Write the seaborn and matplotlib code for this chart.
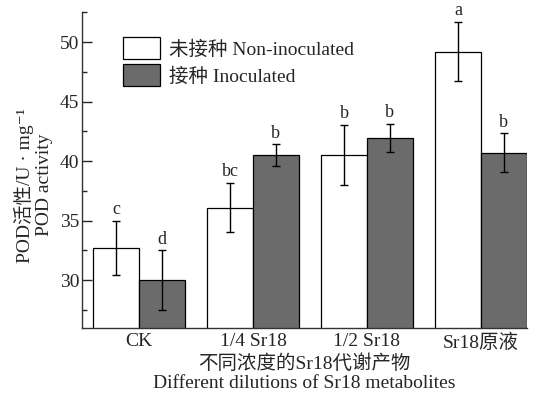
import numpy as np
import pandas as pd
import matplotlib
matplotlib.use("Agg")
import matplotlib.pyplot as plt
import seaborn as sns
from matplotlib.ticker import MultipleLocator

categories = ["CK", "1/4 Sr18", "1/2 Sr18", "Sr18原液"]
groups = ["未接种 Non-inoculated", "接种 Inoculated"]
non_inoc = [32.7, 36.1, 40.5, 49.2]
non_inoc_err = [2.3, 2.1, 2.55, 2.5]
inoc = [30.0, 40.5, 41.95, 40.7]
inoc_err = [2.5, 0.9, 1.2, 1.65]
letters_non = ["c", "bc", "b", "a"]
letters_inoc = ["d", "b", "b", "b"]

df = pd.DataFrame({
    "cat": categories * 2,
    "grp": [groups[0]] * 4 + [groups[1]] * 4,
    "val": non_inoc + inoc,
    "err": non_inoc_err + inoc_err,
    "lab": letters_non + letters_inoc,
})

sns.set_theme(style="ticks")
plt.rcParams['font.family'] = ['Liberation Serif', 'Noto Sans CJK SC', 'DejaVu Serif']

fig = plt.figure(figsize=(5.34, 3.99), dpi=100)
ax = fig.add_axes([0.1536, 0.1787, 0.8324, 0.7904])

sns.barplot(data=df, x="cat", y="val", hue="grp", order=categories,
            hue_order=groups, palette=["white", "#6b6b6b"],
            edgecolor="black", linewidth=0.9, errorbar=None, ax=ax,
            width=0.8)

bars = [p for p in ax.patches if p.get_height() > 0][:8]
for i, p in enumerate(bars):
    g = i // 4
    c = i % 4
    x = p.get_x() + p.get_width() / 2
    v = (non_inoc if g == 0 else inoc)[c]
    e = (non_inoc_err if g == 0 else inoc_err)[c]
    lab = (letters_non if g == 0 else letters_inoc)[c]
    ax.errorbar(x, v, yerr=e, fmt="none", ecolor="black", elinewidth=1.0,
                capsize=3, capthick=1.0)
    ax.text(x, v + e + 0.2, lab, ha="center", va="bottom", fontsize=13)

ax.set_xlim(-0.5, 3.4)
ax.set_ylim(26, 52.5)
ax.yaxis.set_major_locator(MultipleLocator(5))
ax.yaxis.set_minor_locator(MultipleLocator(2.5))
ax.tick_params(axis="y", which="major", direction="in", length=7, width=1, labelsize=14, pad=2)
ax.tick_params(axis="y", which="minor", direction="in", length=3.5, width=1)
ax.tick_params(axis="x", length=0, labelsize=14, pad=4)
sns.despine(ax=ax)
for s in ["left", "bottom"]:
    ax.spines[s].set_linewidth(1.0)
    ax.spines[s].set_color("#333333")

ax.set_xlabel("不同浓度的Sr18代谢产物\nDifferent dilutions of Sr18 metabolites",
              fontsize=14, linespacing=1.15, labelpad=2)
ax.set_ylabel("POD活性/U · mg⁻¹\nPOD activity", fontsize=14,
              linespacing=1.15)
ax.yaxis.set_label_coords(-0.066, 0.452)

leg = ax.legend(loc="upper left", bbox_to_anchor=(0.074, 0.945), frameon=False,
                fontsize=14, handlelength=1.9, handleheight=1.3,
                handletextpad=0.5, labelspacing=0.3, borderaxespad=0)
for h in leg.legend_handles:
    h.set_edgecolor("black")
    h.set_linewidth(0.9)

fig.savefig("out.png", dpi=100)
